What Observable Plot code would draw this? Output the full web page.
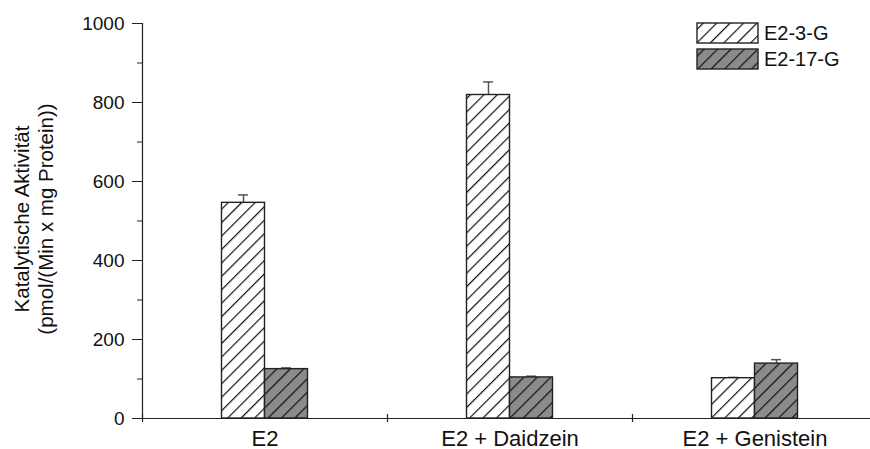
<!DOCTYPE html>
<html>
<head>
<meta charset="utf-8">
<script src="https://cdn.jsdelivr.net/npm/d3@7"></script>
<script src="https://cdn.jsdelivr.net/npm/@observablehq/plot@0.6"></script>
<style>
  html, body { margin: 0; padding: 0; background: #fff; }
  #chart { position: absolute; left: 0; top: 0; }
</style>
</head>
<body>
<div id="chart"></div>
<script>
// ---- data ----
const categories = ["E2", "E2 + Daidzein", "E2 + Genistein"];
const seriesNames = ["E2-3-G", "E2-17-G"];
const e23g = [546, 819, 102];
const e23gErr = [20, 33, 2];
const e217g = [125, 104, 139];
const e217gErr = [3, 3, 10];
const yMajorTicks = [0, 200, 400, 600, 800, 1000];
const yMinorTicks = [100, 300, 500, 700, 900];
const yTitle = ["Katalytische Aktivität", "(pmol/(Min x mg Protein))"];

// ---- layout ----
const W = 870, H = 449;
const mL = 142, mT = 23, mB = 31;
const bandW = 245;
const barW = 43;
const font = "'Liberation Sans', Arial, Helvetica, sans-serif";
const FS = 19;     // y tick labels
const FSX = 22;    // category labels
const FST = 20.5;  // axis title
const FSL = 20;    // legend

const rowsA = categories.map((c, i) => ({cat: c, v: e23g[i], e: e23g[i] + e23gErr[i]}));
const rowsB = categories.map((c, i) => ({cat: c, v: e217g[i], e: e217g[i] + e217gErr[i]}));

const half = bandW / 2;
const insA = {insetLeft: half - barW, insetRight: half};
const insB = {insetLeft: half, insetRight: half - barW};
const capW = 10;

const chart = Plot.plot({
  width: W,
  height: H,
  marginLeft: mL,
  marginRight: 0,
  marginTop: mT,
  marginBottom: mB,
  style: {fontFamily: font, fontSize: FS + "px", background: "#fff", color: "#111", overflow: "visible"},
  x: {type: "band", domain: categories, range: [mL, mL + bandW * categories.length], padding: 0, axis: null},
  y: {domain: [0, 1000], axis: null},
  marks: [
    // error bar stems and caps
    Plot.ruleX(rowsA, {x: "cat", y1: "v", y2: "e", dx: -barW / 2, stroke: "#555", strokeWidth: 1.5}),
    Plot.ruleX(rowsB, {x: "cat", y1: "v", y2: "e", dx: barW / 2, stroke: "#555", strokeWidth: 1.5}),
    Plot.tickY(rowsA, {x: "cat", y: "e", insetLeft: half - barW / 2 - capW / 2, insetRight: half + barW / 2 - capW / 2, stroke: "#555", strokeWidth: 1.5}),
    Plot.tickY(rowsB, {x: "cat", y: "e", insetLeft: half + barW / 2 - capW / 2, insetRight: half - barW / 2 - capW / 2, stroke: "#555", strokeWidth: 1.5}),
    // bars
    Plot.barY(rowsA, {x: "cat", y: "v", ...insA, fill: "url(#hatchWhite)", stroke: "#222", strokeWidth: 1.4}),
    Plot.barY(rowsB, {x: "cat", y: "v", ...insB, fill: "url(#hatchGray)", stroke: "#222", strokeWidth: 1.4}),
    // x axis line and category separators
    Plot.ruleY([0], {stroke: "#222", strokeWidth: 1.2}),
    Plot.ruleX(categories, {x: d => d, dx: -half, y1: 0, y2: 0, insetTop: -4, insetBottom: -4, stroke: "#222", strokeWidth: 1.2}),
    Plot.text(categories, {x: d => d, y: 0, dy: 20, text: d => d, fill: "#111", fontSize: FSX}),
    // y axis line
    Plot.ruleX([categories[0]], {x: d => d, dx: -half, y1: 0, y2: 1000, stroke: "#222", strokeWidth: 1.2}),
    Plot.axisY({ticks: yMajorTicks, tickSize: 10, tickPadding: 8, tickFormat: d => String(d), anchor: "left", fontSize: FS, stroke: "#222"}),
    Plot.axisY({ticks: yMinorTicks, tickSize: 5, tickFormat: null, text: null, anchor: "left", stroke: "#222", label: null})
  ]
});

// defs: hatch patterns
const svg = d3.select(chart);
const defs = svg.insert("defs", ":first-child");
function hatch(id, bg) {
  const s = 9.5;
  const p = defs.append("pattern").attr("id", id).attr("patternUnits", "userSpaceOnUse")
    .attr("width", s).attr("height", s).attr("patternTransform", "rotate(45)");
  p.append("rect").attr("width", s).attr("height", s).attr("fill", bg);
  p.append("line").attr("x1", 0.6).attr("y1", 0).attr("x2", 0.6).attr("y2", s)
    .attr("stroke", "#111").attr("stroke-width", 1.2);
}
hatch("hatchWhite", "#ffffff");
hatch("hatchGray", "#8b8b8b");

// y-axis title (two lines, rotated)
const tt = svg.append("text")
  .attr("transform", `translate(29,219) rotate(-90)`)
  .attr("text-anchor", "middle")
  .attr("font-family", font).attr("font-size", FST).attr("fill", "#111");
tt.append("tspan").attr("x", 0).attr("dy", 0).text(yTitle[0]);
tt.append("tspan").attr("x", 0).attr("dy", "1.15em").text(yTitle[1]);

// legend (inside plot area, top right)
const lg = svg.append("g").attr("font-family", font).attr("font-size", FSL).attr("fill", "#111").attr("text-anchor", "start");
const fills = ["url(#hatchWhite)", "url(#hatchGray)"];
seriesNames.forEach((s, i) => {
  const y0 = 23 + i * 26;
  lg.append("rect").attr("x", 697).attr("y", y0).attr("width", 61).attr("height", 20)
    .attr("fill", fills[i]).attr("stroke", "#222").attr("stroke-width", 1.4);
  lg.append("text").attr("x", 764).attr("y", y0 + 10).attr("dy", "0.36em").attr("text-anchor", "start").text(s);
});

document.getElementById("chart").appendChild(chart);
</script>
</body>
</html>
